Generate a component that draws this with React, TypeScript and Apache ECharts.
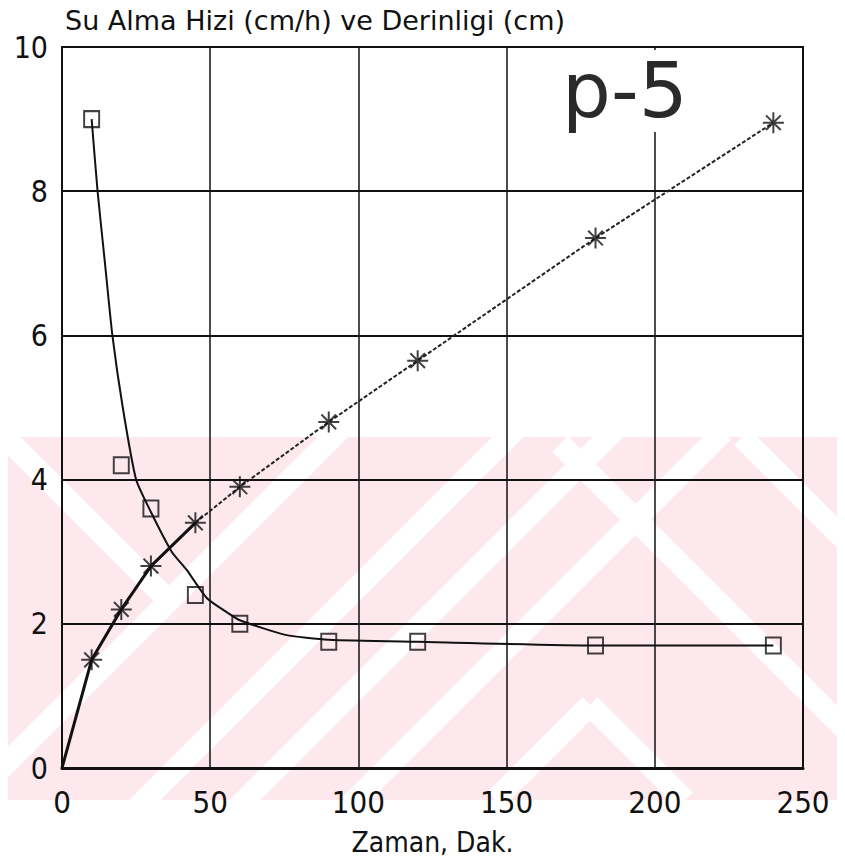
import React, { useEffect, useRef } from "react";
import * as echarts from "echarts";

// Data
const sampleTimes = [10, 20, 30, 45, 60, 90, 120, 180, 240];
const rateValues = [9.0, 4.2, 3.6, 2.4, 2.0, 1.75, 1.75, 1.7, 1.7];
const depthTimes = [0, 10, 20, 30, 45, 60, 90, 120, 180, 240];
const depthValues = [0, 1.5, 2.2, 2.8, 3.4, 3.9, 4.8, 5.65, 7.35, 8.95];
// fitted rate curve
const curveTimes = [10, 12, 14.5, 17, 20.5, 25, 30, 37, 42, 49, 56, 60, 75, 90, 120, 180, 240];
const curveValues = [9.0, 8.0, 7.0, 6.0, 5.0, 4.0, 3.55, 3.0, 2.75, 2.35, 2.15, 2.05, 1.85, 1.78, 1.75, 1.7, 1.7];
const xTicks = [0, 50, 100, 150, 200, 250];
const yTicks = [0, 2, 4, 6, 8, 10];

const titleText = "Su Alma Hizi (cm/h) ve Derinligi (cm)";
const xName = "Zaman, Dak.";
const panelLabel = "p-5";

const FONT = "'DejaVu Sans Condensed', 'Liberation Sans', Arial, sans-serif";
const WIDE_FONT = "'DejaVu Sans', 'Liberation Sans', Arial, sans-serif";

function band(x1: number, y1: number, x2: number, y2: number, w: number) {
  const dx = x2 - x1, dy = y2 - y1;
  const L = Math.hypot(dx, dy);
  const nx = (-dy / L) * (w / 2), ny = (dx / L) * (w / 2);
  return {
    type: "polygon",
    z: -10,
    silent: true,
    shape: { points: [[x1 + nx, y1 + ny], [x2 + nx, y2 + ny], [x2 - nx, y2 - ny], [x1 - nx, y1 - ny]] },
    style: { fill: "#ffffff" },
  };
}

const ASTERISK = "path://M10,0L10,20M0,10L20,10M3,3L17,17M3,17L17,3";

export default function App() {
  const ref = useRef<HTMLDivElement>(null);
  useEffect(() => {
    if (!ref.current) return;
    const chart = echarts.init(ref.current, undefined, { renderer: "svg" });
    const pair = (xs: number[], ys: number[]) => xs.map((x, i) => [x, ys[i]]);
    const depthPairs = pair(depthTimes, depthValues);
    const W = 22;
    chart.setOption({
      animation: false,
      backgroundColor: "#ffffff",
      title: {
        text: titleText,
        left: 60,
        top: 2,
        textStyle: { fontFamily: WIDE_FONT, fontSize: 27, fontWeight: "normal", color: "#111" },
      },
      graphic: [
        { type: "rect", z: -20, silent: true, shape: { x: 0, y: 437, width: 845, height: 363 }, style: { fill: "#fde9ed" } },
        band(-20, 412, 169, 601, W),
        band(-20, 790, 353, 417, W),
        band(125, 820, 528, 417, W),
        band(235, 810, 620, 425, W),
        band(350, 805, 723, 432, W),
        band(495, 800, 590, 705, W),
        band(590, 705, 685, 800, W),
        band(560, 444, 845, 729, W),
        band(742, 437, 845, 540, W),
        { type: "rect", z: 50, silent: true, shape: { x: 640, y: 50, width: 26, height: 82 }, style: { fill: "#ffffff" } },
        {
          type: "text",
          z: 60,
          left: 562,
          top: 52,
          style: { text: panelLabel, fontFamily: WIDE_FONT, fontSize: 77, fill: "#2a2a2a" },
        },
      ],
      grid: {
        left: 62,
        right: 42,
        top: 47,
        bottom: 99,
        show: true,
        borderColor: "#111",
        borderWidth: 2,
        backgroundColor: "transparent",
      },
      xAxis: {
        type: "value",
        min: xTicks[0],
        max: xTicks[xTicks.length - 1],
        interval: 50,
        name: xName,
        nameLocation: "middle",
        nameGap: 60,
        nameTextStyle: { fontFamily: FONT, fontSize: 28, color: "#111" },
        axisLine: { show: true, lineStyle: { color: "#111", width: 3 } },
        axisTick: { show: false },
        axisLabel: { fontFamily: FONT, fontSize: 31, color: "#111", margin: 18 },
        splitLine: { show: true, lineStyle: { color: "#111", width: 1.5 } },
      },
      yAxis: {
        type: "value",
        min: yTicks[0],
        max: yTicks[yTicks.length - 1],
        interval: 2,
        axisLine: { show: true, lineStyle: { color: "#111", width: 2 } },
        axisTick: { show: false },
        axisLabel: { fontFamily: FONT, fontSize: 30, color: "#111", margin: 14 },
        splitLine: { show: true, lineStyle: { color: "#111", width: 2 } },
      },
      series: [
        {
          type: "line",
          name: "rate curve",
          data: pair(curveTimes, curveValues),
          smooth: 0.2,
          showSymbol: false,
          lineStyle: { color: "#111", width: 2 },
          z: 3,
        },
        {
          type: "scatter",
          name: "rate",
          data: pair(sampleTimes, rateValues),
          symbol: "rect",
          symbolSize: [15, 16],
          itemStyle: { color: "transparent", borderColor: "#111", borderWidth: 2 },
          z: 5,
        },
        {
          type: "line",
          name: "depth early",
          data: depthPairs.slice(0, 5),
          showSymbol: false,
          lineStyle: { color: "#111", width: 3 },
          z: 3,
        },
        {
          type: "line",
          name: "depth late",
          data: depthPairs.slice(4),
          showSymbol: false,
          lineStyle: { color: "#222", width: 2, type: [4, 2] },
          z: 3,
        },
        {
          type: "scatter",
          name: "depth",
          data: depthPairs.slice(1),
          symbol: ASTERISK,
          symbolSize: 21,
          itemStyle: { color: "transparent", borderColor: "#111", borderWidth: 2 },
          z: 5,
        },
      ],
    });
    return () => chart.dispose();
  }, []);
  return <div ref={ref} style={{ width: 845, height: 867, margin: -8 }} />;
}
